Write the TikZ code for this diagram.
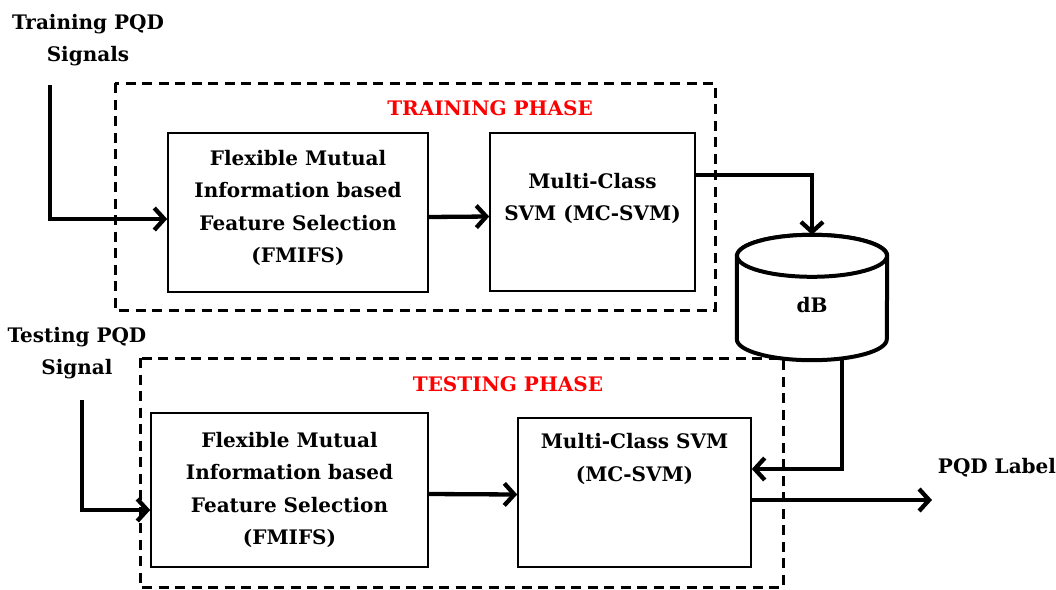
\documentclass[tikz,border=0pt]{standalone}
\usepackage{fontspec}
\setmainfont{DejaVu Serif}
\usepackage{xcolor}
\usetikzlibrary{arrows.meta, positioning}

\begin{document}
\begin{tikzpicture}[x=1pt, y=-1pt,
  txt/.style={font=\bfseries\fontsize{20}{32.5}\selectfont, align=center},
  box/.style={txt, draw, line width=1.6pt, inner sep=0pt},
  phase/.style={draw, line width=3pt, dash pattern=on 10pt off 6.5pt},
  title/.style={font=\bfseries\fontsize{20}{22}\selectfont, text=red},
  cyl/.style={draw, fill=white, line width=4pt, x radius=75pt, y radius=21pt},
  arr/.style={-{Straight Barb[length=10pt,width=22pt]}, line width=4.3pt}
]
\useasboundingbox (0,0) rectangle (1056,589);

% phases
\draw[phase] (115,83) rectangle (715,310);
\draw[phase] (140,358) rectangle (783,587);
\node[title] (trph) at (490,108) {TRAINING PHASE};
\node[title] (tsph) at (508,384) {TESTING PHASE};

% training
\node[txt] (trin) at (88,40) {Training PQD\\Signals};
\coordinate (trs) at (50,85);
\node[box, minimum width=260pt, minimum height=159pt, text depth=12pt] (fm1) at (298,212.5)
  {Flexible Mutual\\Information based\\Feature Selection\\(FMIFS)};
\node[box, minimum width=205pt, minimum height=158pt, text depth=30pt] (svm1) at (592.5,212)
  {Multi-Class\\SVM (MC-SVM)};

% database
\node[minimum width=150pt, minimum height=125pt, inner sep=0pt] (dB) at (812,297.5) {};
\path[cyl] ([yshift=-21pt]dB.north west) -- ([yshift=21pt]dB.south west)
  arc[start angle=180, end angle=360] -- ([yshift=-21pt]dB.north east)
  arc[start angle=0, end angle=180] -- cycle;
\path[cyl] ([yshift=-21pt]dB.north) ellipse [];
\node[txt] (dBl) at ([yshift=-7.5pt]dB.center) {dB};

% testing
\node[txt] (tsin) at (77,353) {Testing PQD\\Signal};
\coordinate (tss) at (82,400);
\node[box, minimum width=277pt, minimum height=154pt] (fm2) at (289.5,490)
  {Flexible Mutual\\Information based\\Feature Selection\\(FMIFS)};
\node[box, minimum width=233pt, minimum height=149pt, text depth=70pt] (svm2) at (634.5,492.5)
  {Multi-Class SVM\\(MC-SVM)};
\node[txt] (lbl) at (997,468) {PQD Label};
\coordinate (out) at (932,500);

\draw[arr] (trs) |- ([yshift=-6.5pt]fm1.west);
\draw[arr] ([yshift=-4.5pt]fm1.east) -- ([yshift=-4.5pt]svm1.west);
\draw[arr] ([yshift=37pt]svm1.east) -| (dB.north);
\draw[arr] (tss) |- ([yshift=-20pt]fm2.west);
\draw[arr] ([yshift=-4pt]fm2.east) -- ([yshift=-2pt]svm2.west);
\draw[arr] ([xshift=30pt]dB.south) |- ([yshift=23.5pt]svm2.east);
\draw[arr] ([yshift=-7.5pt]svm2.east) -- (out);
\end{tikzpicture}
\end{document}
